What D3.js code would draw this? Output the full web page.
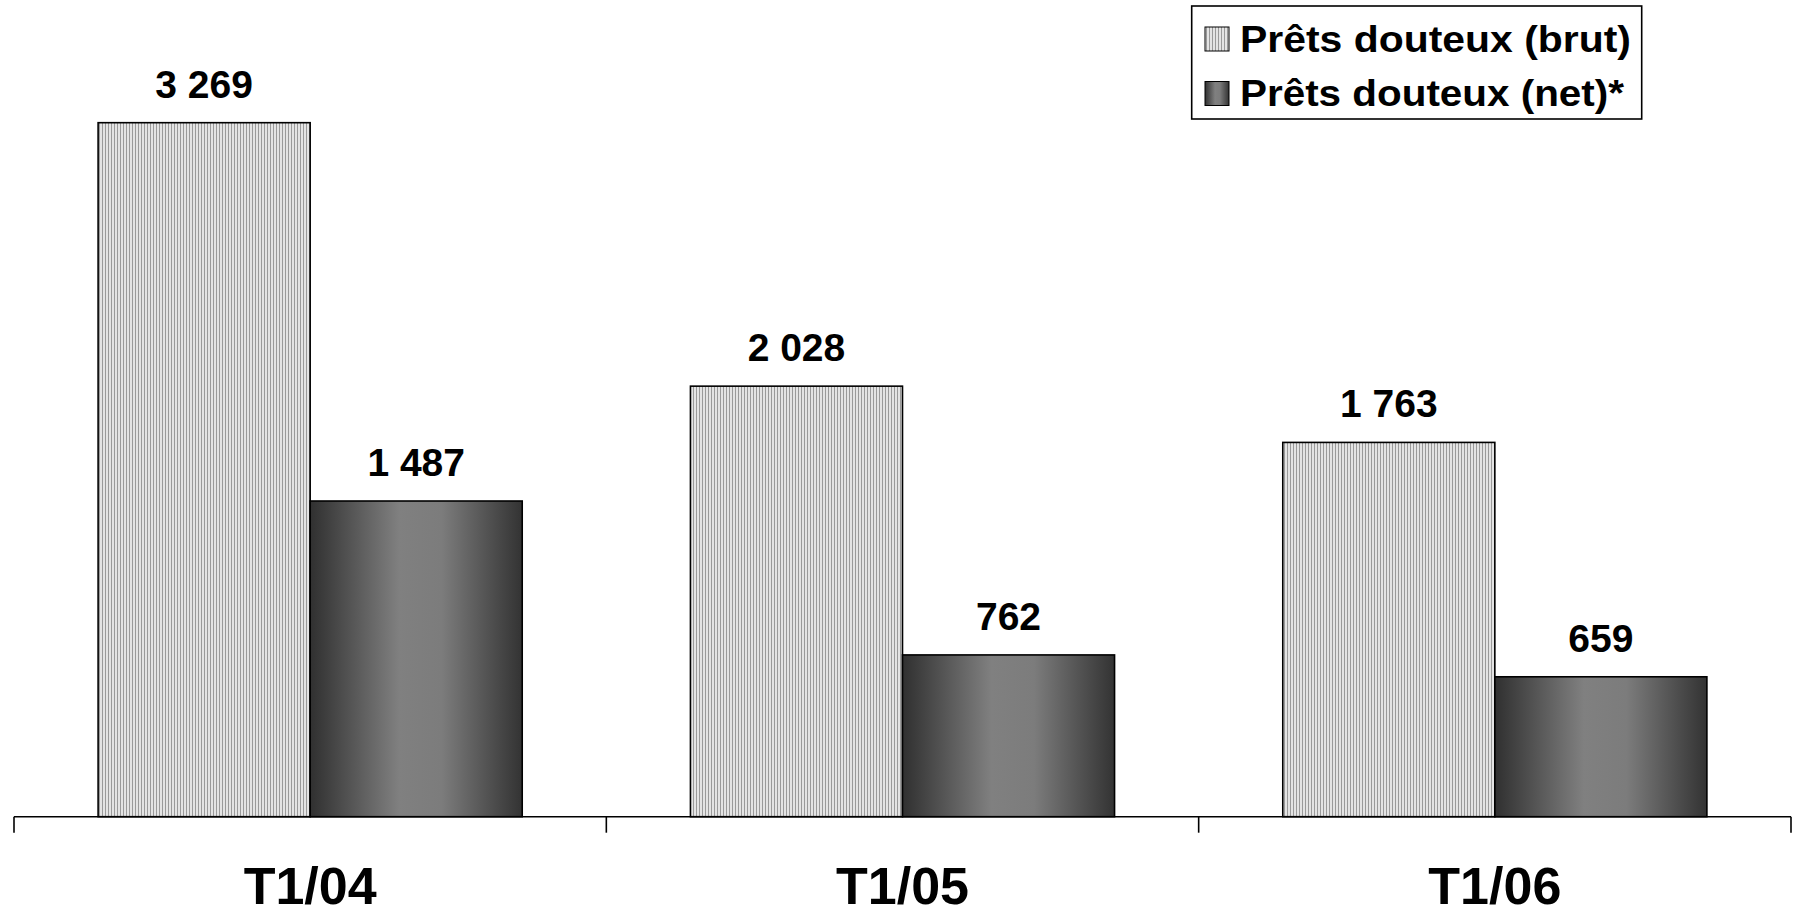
<!DOCTYPE html>
<html>
<head>
<meta charset="utf-8">
<script src="https://cdn.jsdelivr.net/npm/d3@7"></script>
<style>
  html, body { margin: 0; padding: 0; background: #fff; }
  svg { display: block; font-family: "Liberation Sans", Arial, sans-serif; }
</style>
</head>
<body>
<svg id="chart" width="1797" height="916"></svg>
<script>
const categories = ["T1/04", "T1/05", "T1/06"];
const seriesNames = ["Prêts douteux (brut)", "Prêts douteux (net)*"];
const brutValues = [3269, 2028, 1763];
const netValues = [1487, 762, 659];
const valueLabels = [["3 269", "2 028", "1 763"], ["1 487", "762", "659"]];

const svg = d3.select("#chart");
const defs = svg.append("defs");

// stripe pattern for "brut"
const pat = defs.append("pattern")
  .attr("id", "stripes").attr("patternUnits", "userSpaceOnUse")
  .attr("width", 3).attr("height", 10);
pat.append("rect").attr("width", 3).attr("height", 10).attr("fill", "#e4e4e4");
pat.append("rect").attr("x", 0).attr("width", 1).attr("height", 10).attr("fill", "#9a9a9a");

// gradient for "net"
const grad = defs.append("linearGradient").attr("id", "cyl")
  .attr("x1", "0%").attr("x2", "100%").attr("y1", "0%").attr("y2", "0%");
[[0, "#303030"], [0.42, "#808080"], [0.62, "#7c7c7c"], [1, "#333333"]].forEach(([o, c]) =>
  grad.append("stop").attr("offset", o).attr("stop-color", c));

const fills = ["url(#stripes)", "url(#cyl)"];
const data = [brutValues, netValues];

const baseY = 816.7;
const y = d3.scaleLinear().domain([0, 3500]).range([baseY, baseY - 3500 * 0.2123]);
const x0 = d3.scaleBand().domain(categories).range([14, 1791])
  .paddingInner(0.284).paddingOuter(0.142);
const x1 = d3.scaleBand().domain([0, 1]).range([0, x0.bandwidth()]);

const step = x0.step();
const groupStart = c => x0(c) - step * 0.142;

// bars
data.forEach((vals, si) => {
  svg.append("g").selectAll("rect").data(categories).join("rect")
    .attr("x", c => x0(c) + x1(si))
    .attr("y", (c, i) => y(vals[i]))
    .attr("width", x1.bandwidth())
    .attr("height", (c, i) => baseY - y(vals[i]))
    .attr("fill", fills[si])
    .attr("stroke", "#000").attr("stroke-width", 1.6);
  svg.append("g").selectAll("text").data(categories).join("text")
    .attr("x", c => x0(c) + x1(si) + x1.bandwidth() / 2)
    .attr("y", (c, i) => y(vals[i]) - 25)
    .attr("text-anchor", "middle")
    .attr("font-size", 39).attr("font-weight", "bold")
    .text((c, i) => valueLabels[si][i]);
});

// axis
const axisG = svg.append("g");
axisG.append("line").attr("x1", 14).attr("x2", 1791).attr("y1", baseY).attr("y2", baseY)
  .attr("stroke", "#000").attr("stroke-width", 1.6);
const tickXs = categories.map(c => groupStart(c)).concat([1791]);
axisG.selectAll("line.tick").data(tickXs).join("line").attr("class", "tick")
  .attr("x1", d => d).attr("x2", d => d).attr("y1", baseY).attr("y2", baseY + 16)
  .attr("stroke", "#000").attr("stroke-width", 1.6);
axisG.selectAll("text").data(categories).join("text")
  .attr("x", c => x0(c) + x0.bandwidth() / 2)
  .attr("y", 904)
  .attr("text-anchor", "middle")
  .attr("font-size", 52).attr("font-weight", "bold")
  .text(c => c);

// legend
const lg = svg.append("g");
lg.append("rect").attr("x", 1191.7).attr("y", 6).attr("width", 450).attr("height", 113)
  .attr("fill", "#fff").attr("stroke", "#000").attr("stroke-width", 1.6);
seriesNames.forEach((name, i) => {
  lg.append("rect").attr("x", 1205).attr("y", 27 + i * 54.5).attr("width", 24).attr("height", 24)
    .attr("fill", fills[i]).attr("stroke", "#000").attr("stroke-width", 1);
  lg.append("text").attr("x", 1240).attr("y", 51.7 + i * 54.5)
    .attr("font-size", 37).attr("font-weight", "bold")
    .attr("textLength", i === 0 ? 391 : 384).attr("lengthAdjust", "spacingAndGlyphs")
    .text(name);
});
</script>
</body>
</html>
